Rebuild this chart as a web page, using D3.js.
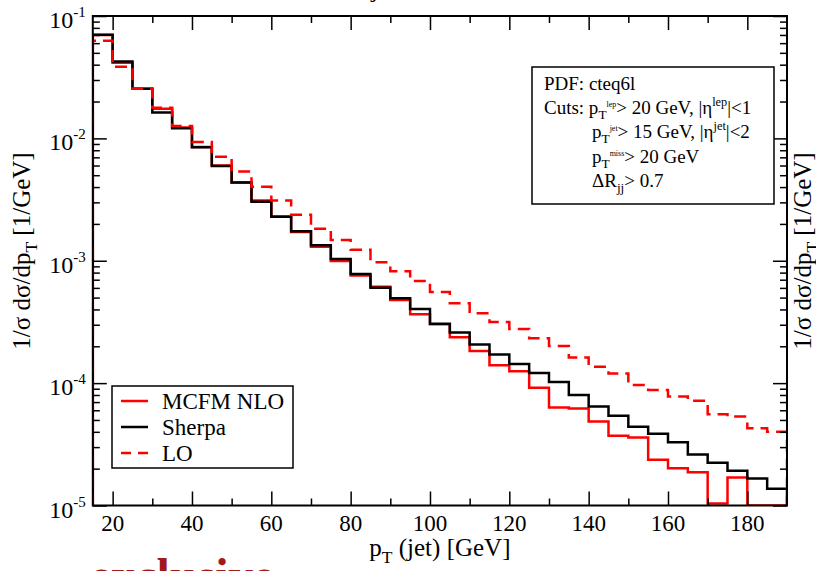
<!DOCTYPE html>
<html>
<head>
<meta charset="utf-8">
<script src="https://cdn.jsdelivr.net/npm/d3@7/dist/d3.min.js"></script>
<style>
  html, body { margin: 0; padding: 0; background: #fff; }
  svg { display: block; font-family: "Liberation Serif", "DejaVu Serif", serif; }
</style>
</head>
<body>
<svg id="chart" width="816" height="571"></svg>
<script>
// Jet transverse momentum spectrum, normalised, in 5 GeV bins (lower bin edges)
const binLow = [15, 20, 25, 30, 35, 40, 45, 50, 55, 60, 65, 70, 75, 80, 85, 90, 95, 100,
                105, 110, 115, 120, 125, 130, 135, 140, 145, 150, 155, 160, 165, 170, 175, 180, 185];
const binWidth = 5;

// 1/sigma dsigma/dpT [1/GeV]
const mcfmNLO = [0.0700, 0.0415, 0.0255, 0.0175, 0.01225, 0.0085, 0.0060, 0.00435, 0.0031, 0.0023,
                 0.00172, 0.0013, 0.000995, 0.000756, 0.000614, 0.000478, 0.000366, 0.000303, 0.000237, 0.000183,
                 0.000140, 0.000125, 9.18e-5, 6.31e-5, 6.19e-5, 4.85e-5, 3.72e-5, 3.59e-5, 2.37e-5, 2.02e-5,
                 1.87e-5, 1.04e-5, 1.69e-5, 0, 0];
const sherpa = [0.0704, 0.0424, 0.0255, 0.0163, 0.0121, 0.00846, 0.00596, 0.00435, 0.00304, 0.00229,
                0.00174, 0.00134, 0.001035, 0.00078, 0.000603, 0.000494, 0.000404, 0.000306, 0.000259, 0.000207,
                0.000171, 0.000143, 0.000121, 0.000102, 8.01e-5, 6.43e-5, 5.40e-5, 4.41e-5, 3.85e-5, 3.29e-5,
                2.61e-5, 2.24e-5, 1.92e-5, 1.66e-5, 1.37e-5];
const lo = [0.0628, 0.0385, 0.0255, 0.0178, 0.0126, 0.00935, 0.00708, 0.00535, 0.00403, 0.0031,
            0.00238, 0.00183, 0.00148, 0.00123, 0.000972, 0.00082, 0.000684, 0.000556, 0.00045, 0.000373,
            0.000316, 0.000277, 0.000233, 0.000201, 0.000162, 0.000136, 0.00012, 9.66e-5, 8.79e-5, 7.76e-5,
            7.19e-5, 5.57e-5, 5.33e-5, 4.28e-5, 4.01e-5];

const seriesNames = ["MCFM NLO", "Sherpa", "LO"];

const xMajorTicks = [20, 40, 60, 80, 100, 120, 140, 160, 180];
const xMinorTicks = [30, 50, 70, 90, 110, 130, 150, 170];
const yMajorTicks = [1e-5, 1e-4, 1e-3, 1e-2, 1e-1];
const yExponents = ["-5", "-4", "-3", "-2", "-1"];

const svg = d3.select("#chart");
const plot = { left: 92.8, right: 787, top: 16, bottom: 505.5 };

const x = d3.scaleLinear().domain([15, 190]).range([plot.left, plot.right]);
const y = d3.scaleLog().domain([1e-5, 1e-1]).range([plot.bottom, plot.top]).clamp(true);

// minor decade ticks 2..9 x 10^n
const yMinorTicks = [];
for (let e = -5; e < -1; e++) {
  for (let m = 2; m <= 9; m++) yMinorTicks.push(m * Math.pow(10, e));
}

svg.append("defs").append("clipPath").attr("id", "plotClip")
  .append("rect")
  .attr("x", plot.left).attr("y", plot.top)
  .attr("width", plot.right - plot.left).attr("height", plot.bottom - plot.top);

// histogram outline as a step path
function stepPoints(values) {
  const pts = [[binLow[0], 0]];
  values.forEach((v, i) => pts.push([binLow[i], v]));
  const last = binLow[binLow.length - 1] + binWidth;
  pts.push([last, values[values.length - 1]]);
  pts.push([last, 0]);
  return pts;
}
const stepLine = d3.line()
  .x(d => x(d[0]))
  .y(d => y(d[1] > 0 ? d[1] : 1e-5))
  .curve(d3.curveStepAfter);

const lines = svg.append("g").attr("clip-path", "url(#plotClip)");
const seriesDefs = [
  { values: mcfmNLO, color: "#ff0000", dash: null },
  { values: sherpa, color: "#000000", dash: null },
  { values: lo, color: "#ff0000", dash: "12,7" }
];
seriesDefs.forEach(s => {
  lines.append("path")
    .attr("d", stepLine(stepPoints(s.values)))
    .attr("fill", "none")
    .attr("stroke", s.color)
    .attr("stroke-width", 2.5)
    .attr("stroke-dasharray", s.dash)
    .attr("stroke-linejoin", "miter");
});

// axes: ticks pointing inward on all four sides
function tickAxis(axis, transform, size, values) {
  const g = svg.append("g").attr("transform", transform)
    .call(axis.tickValues(values).tickSize(size).tickFormat(""));
  g.select(".domain").remove();
  g.selectAll("line").attr("stroke", "#000").attr("stroke-width", 1.5);
  return g;
}
tickAxis(d3.axisBottom(x), `translate(0,${plot.bottom})`, -14, xMajorTicks);
tickAxis(d3.axisBottom(x), `translate(0,${plot.bottom})`, -7, xMinorTicks);
tickAxis(d3.axisTop(x), `translate(0,${plot.top})`, -14, xMajorTicks);
tickAxis(d3.axisTop(x), `translate(0,${plot.top})`, -7, xMinorTicks);
tickAxis(d3.axisLeft(y), `translate(${plot.left},0)`, -14, yMajorTicks);
tickAxis(d3.axisLeft(y), `translate(${plot.left},0)`, -7, yMinorTicks);
tickAxis(d3.axisRight(y), `translate(${plot.right},0)`, -14, yMajorTicks);
tickAxis(d3.axisRight(y), `translate(${plot.right},0)`, -7, yMinorTicks);

svg.append("rect")
  .attr("x", plot.left).attr("y", plot.top)
  .attr("width", plot.right - plot.left).attr("height", plot.bottom - plot.top)
  .attr("fill", "none").attr("stroke", "#000").attr("stroke-width", 2);

// x tick labels
svg.append("g").selectAll("text").data(xMajorTicks).join("text")
  .attr("x", d => x(d)).attr("y", plot.bottom + 25)
  .attr("text-anchor", "middle").attr("font-size", 23)
  .text(d => d);

// y tick labels: 10^n
const yLab = svg.append("g").selectAll("text").data(yMajorTicks).join("text")
  .attr("x", plot.left - 7).attr("y", d => y(d) + 12)
  .attr("text-anchor", "end").attr("font-size", 24);
yLab.append("tspan").text("10");
yLab.append("tspan").attr("font-size", 15).attr("dy", -11)
  .text((d, i) => yExponents[i]);

// rich text helper: parts = [text, kind]
function rich(sel, parts, size) {
  let cur = 0;
  parts.forEach(([s, kind]) => {
    let shift = 0, fs = size;
    if (kind === "sub") { shift = 0.28 * size; fs = 0.7 * size; }
    if (kind === "sup") { shift = -0.42 * size; fs = 0.65 * size; }
    if (kind === "tiny") { shift = -0.36 * size; fs = 0.42 * size; }
    sel.append("tspan").attr("dy", shift - cur).attr("font-size", fs).text(s);
    cur = shift;
  });
}

// axis titles
const xt = svg.append("text").attr("x", x(102.5)).attr("y", 556)
  .attr("text-anchor", "middle").attr("font-size", 25);
rich(xt, [["p", ""], ["T", "sub"], [" (jet) [GeV]", ""]], 25);

const yTitleParts = [["1/σ dσ/dp", ""], ["T", "sub"], [" [1/GeV]", ""]];
const ytl = svg.append("text").attr("transform", "translate(30,251) rotate(-90)")
  .attr("text-anchor", "middle").attr("font-size", 25);
rich(ytl, yTitleParts, 25);
const ytr = svg.append("text").attr("transform", "translate(811,251) rotate(-90)")
  .attr("text-anchor", "middle").attr("font-size", 25);
rich(ytr, yTitleParts, 25);

// cut info box
const info = svg.append("g");
info.append("rect").attr("x", 532).attr("y", 67).attr("width", 242).attr("height", 137)
  .attr("fill", "#fff").attr("stroke", "#000").attr("stroke-width", 1.5);
const fsInfo = 19;
const infoLines = [
  { x: 544, y: 90, parts: [["PDF: cteq6l", ""]] },
  { x: 544, y: 113.5, parts: [["Cuts: p", ""], ["T", "sub"], ["lep", "tiny"], ["> 20 GeV, |η", ""], ["lep", "sup"], ["|<1", ""]] },
  { x: 592, y: 138, parts: [["p", ""], ["T", "sub"], ["jet", "tiny"], ["> 15 GeV, |η", ""], ["jet", "sup"], ["|<2", ""]] },
  { x: 592, y: 162.5, parts: [["p", ""], ["T", "sub"], ["miss", "tiny"], ["> 20 GeV", ""]] },
  { x: 592, y: 187, parts: [["ΔR", ""], ["jj", "sub"], ["> 0.7", ""]] }
];
infoLines.forEach(l => {
  const t = info.append("text").attr("x", l.x).attr("y", l.y).attr("font-size", fsInfo);
  rich(t, l.parts, fsInfo);
});

// legend
const leg = svg.append("g");
leg.append("rect").attr("x", 112).attr("y", 386).attr("width", 181).attr("height", 82)
  .attr("fill", "#fff").attr("stroke", "#000").attr("stroke-width", 1.5);
const legY = [401, 427, 453];
seriesDefs.forEach((s, i) => {
  leg.append("line").attr("x1", 121).attr("x2", 148).attr("y1", legY[i]).attr("y2", legY[i])
    .attr("stroke", s.color).attr("stroke-width", 2.5).attr("stroke-dasharray", s.dash ? "10,7" : null);
  leg.append("text").attr("x", 162).attr("y", legY[i] + 8).attr("font-size", 23).text(seriesNames[i]);
});

// page title (mostly above the visible area) and caption below
svg.append("text").attr("x", 300).attr("y", -3).attr("font-size", 26).text("W + 2 jets");
svg.append("text").attr("x", 90).attr("y", 592).attr("font-size", 48)
  .attr("font-weight", "bold").attr("fill", "#a01a1c").text("exclusive");
</script>
</body>
</html>
